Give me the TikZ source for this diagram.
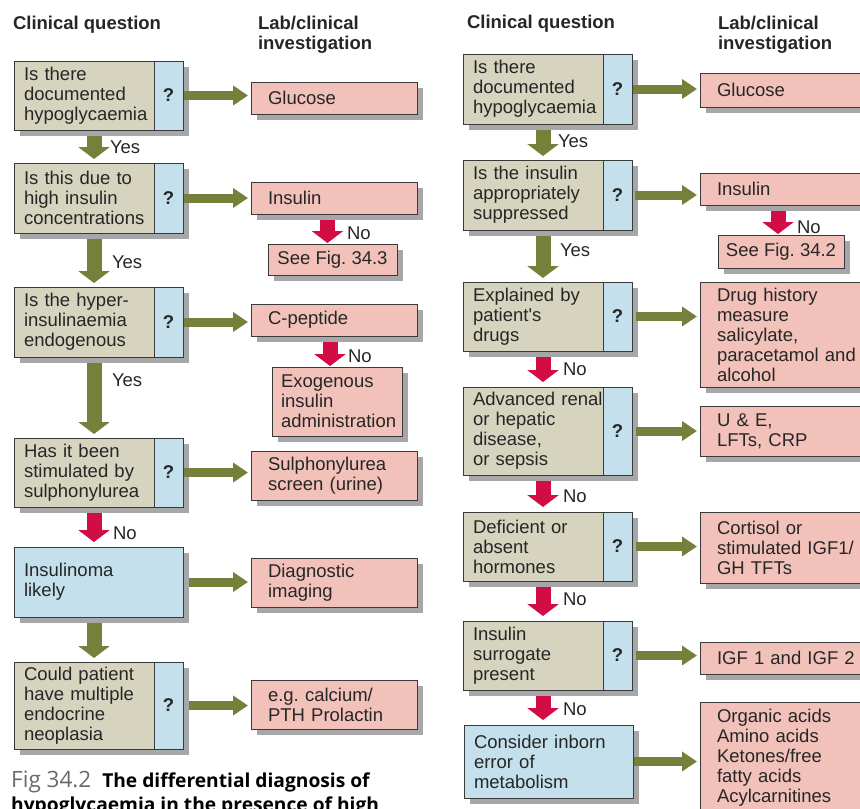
\documentclass[tikz,border=0pt]{standalone}
\usepackage{fontspec}
\setmainfont{Liberation Sans}
\newfontfamily\capfont{Open Sans}
\usetikzlibrary{arrows.meta,shadows}
\definecolor{qbeige}{HTML}{D6D4BE}
\definecolor{qblue}{HTML}{C4E0EC}
\definecolor{labpink}{HTML}{F2C2BA}
\definecolor{shadowgray}{HTML}{A7A7A9}
\definecolor{boxline}{HTML}{3A3A3A}
\definecolor{greenarr}{HTML}{76803A}
\definecolor{redarr}{HTML}{D20C44}
\definecolor{capgray}{HTML}{6A6A6A}
\hyphenpenalty=10000
\frenchspacing
\tikzset{
  base/.style={font=\fontsize{18.5}{20}\selectfont, inner sep=0pt, outer sep=0pt, text=black!85},
  head/.style={base, font=\fontsize{18.5}{19.5}\selectfont\bfseries},
  box/.style={base, draw=boxline, line width=0.9pt, anchor=north west,
    drop shadow={shadow xshift=6pt, shadow yshift=-6pt, fill=shadowgray, opacity=1}},
  question/.style={box, fill=qbeige, text width=120pt, inner xsep=10pt, align=left},
  qmark/.style={box, fill=qblue, minimum width=29pt, font=\fontsize{18.5}{20}\selectfont\bfseries},
  insight/.style={box, fill=qblue, text width=149pt, inner xsep=10pt, align=left},
  lab/.style={box, fill=labpink, inner xsep=17pt, align=left},
  see/.style={box, fill=labpink},
  yn/.style={base, anchor=west},
  yesarrow/.style={draw=greenarr, line width=15pt, -{Triangle[width=31pt,length=12pt]}, shorten <=6pt, shorten >=4pt},
  noarrow/.style={draw=redarr, line width=15pt, -{Triangle[width=31pt,length=12pt]}, shorten <=6pt, shorten >=5pt},
  labarrow/.style={draw=greenarr, line width=9pt, -{Triangle[width=19pt,length=15pt]}, shorten <=1pt, shorten >=3pt}
}
\begin{document}
\begin{tikzpicture}[x=1pt, y=-1pt]
\useasboundingbox (0,0) rectangle (860,809);
% column heads
\node[head, anchor=west] (hq1) at (13,25) {Clinical question};
\node[head, anchor=west, align=left] (hl1) at (258,35) {Lab/clinical\\investigation};
\node[head, anchor=west] (hq2) at (467,24) {Clinical question};
\node[head, anchor=west, align=left] (hl2) at (718,35) {Lab/clinical\\investigation};

% left chart, questions
\node[question, minimum height=69pt] (q1) at (14,61) {Is there\\documented\\hypoglycaemia};
\node[qmark, minimum height=69pt] (q1m) at (q1.north east) {?};
\node[question, minimum height=70pt] (q2) at (14,163) {Is this due to\\high insulin\\concentrations};
\node[qmark, minimum height=70pt] (q2m) at (q2.north east) {?};
\node[question, minimum height=70pt] (q3) at (14,287) {Is the hyper-\\insulinaemia\\endogenous};
\node[qmark, minimum height=70pt] (q3m) at (q3.north east) {?};
\node[question, minimum height=69pt] (q4) at (14,438) {Has it been\\stimulated by\\sulphonylurea};
\node[qmark, minimum height=69pt] (q4m) at (q4.north east) {?};
\node[insight, minimum height=70pt] (q5) at (14,547) {Insulinoma\\likely};
\node[question, minimum height=87pt] (q6) at (14,662) {Could patient\\have multiple\\endocrine\\neoplasia};
\node[qmark, minimum height=87pt] (q6m) at (q6.north east) {?};

% left chart, investigations
\node[lab, text width=132pt, minimum height=32pt] (l1) at (251,82) {Glucose};
\node[lab, text width=132pt, minimum height=32pt] (l2) at (251,182) {Insulin};
\node[see, minimum width=129pt, minimum height=31pt] (s2) at (268,244) {See Fig. 34.3};
\node[lab, text width=132pt, minimum height=32pt] (l3) at (251,304) {C-peptide};
\node[see, text width=112pt, inner xsep=9pt, align=left, minimum height=69pt] (s3) at (272,367) {Exogenous\\insulin\\administration};
\node[lab, text width=132pt, minimum height=49pt] (l4) at (251,451) {Sulphonylurea\\screen (urine)};
\node[lab, text width=132pt, minimum height=49pt] (l5) at (251,558) {Diagnostic\\imaging};
\node[lab, text width=132pt, minimum height=49pt] (l6) at (251,680) {e.g. calcium/\\PTH Prolactin};

% right chart, questions
\node[question, minimum height=70pt] (r1) at (463,54) {Is there\\documented\\hypoglycaemia};
\node[qmark, minimum height=70pt] (r1m) at (r1.north east) {?};
\node[question, minimum height=70pt] (r2) at (463,160) {Is the insulin\\appropriately\\suppressed};
\node[qmark, minimum height=70pt] (r2m) at (r2.north east) {?};
\node[question, minimum height=69pt] (r3) at (463,282) {Explained by\\patient\textquotesingle s\\drugs};
\node[qmark, minimum height=69pt] (r3m) at (r3.north east) {?};
\node[question, minimum height=88pt] (r4) at (463,387) {\mbox{Advanced renal}\\or hepatic\\disease,\\or sepsis};
\node[qmark, minimum height=88pt] (r4m) at (r4.north east) {?};
\node[question, minimum height=69pt] (r5) at (463,512) {Deficient or\\absent\\hormones};
\node[qmark, minimum height=69pt] (r5m) at (r5.north east) {?};
\node[question, minimum height=69pt] (r6) at (463,621) {Insulin\\surrogate\\present};
\node[qmark, minimum height=69pt] (r6m) at (r6.north east) {?};
\node[insight, minimum height=73pt] (r7) at (464,725) {Consider inborn\\error of\\metabolism};

% right chart, investigations
\node[lab, text width=156pt, minimum height=34pt] (m1) at (700,73) {Glucose};
\node[lab, text width=156pt, minimum height=32pt] (m2) at (700,173) {Insulin};
\node[see, minimum width=126pt, minimum height=33pt] (t2) at (718,235) {See Fig. 34.2};
\node[lab, text width=156pt, minimum height=105pt] (m3) at (700,282) {Drug history\\measure\\salicylate,\\paracetamol and\\alcohol};
\node[lab, text width=156pt, minimum height=50pt] (m4) at (700,406) {U \& E,\\LFTs, CRP};
\node[lab, text width=156pt, minimum height=71pt] (m5) at (700,512) {Cortisol or\\stimulated IGF1/\\GH TFTs};
\node[lab, text width=156pt, minimum height=32pt] (m6) at (700,642) {IGF 1 and IGF 2};
\node[lab, text width=156pt, minimum height=112pt] (m7) at (700,702) {Organic acids\\Amino acids\\Ketones/free\\fatty acids\\Acylcarnitines};

% down the left chart
\draw[yesarrow] ([xshift=10pt]q1.south) -- ([xshift=10pt]q1.south |- q2.north);
\draw[yesarrow] ([xshift=10pt]q2.south) -- ([xshift=10pt]q2.south |- q3.north);
\draw[yesarrow] ([xshift=10pt]q3.south) -- ([xshift=10pt]q3.south |- q4.north);
\draw[noarrow] ([xshift=10pt]q4.south) -- ([xshift=10pt]q4.south |- q5.north);
\draw[yesarrow] ([xshift=10pt]q6.north |- q5.south) -- ([xshift=10pt]q6.north);
\node[yn] (y1) at (110,147) {Yes};
\node[yn] (y2) at (112,262) {Yes};
\node[yn] (y3) at (112,380) {Yes};
\node[yn] (n4) at (113,533) {No};

% down the right chart
\draw[yesarrow] ([xshift=10pt]r1.south) -- ([xshift=10pt]r1.south |- r2.north);
\draw[yesarrow] ([xshift=10pt]r2.south) -- ([xshift=10pt]r2.south |- r3.north);
\draw[noarrow] ([xshift=10pt]r3.south) -- ([xshift=10pt]r3.south |- r4.north);
\draw[noarrow] ([xshift=10pt]r4.south) -- ([xshift=10pt]r4.south |- r5.north);
\draw[noarrow] ([xshift=10pt]r5.south) -- ([xshift=10pt]r5.south |- r6.north);
\draw[noarrow] ([xshift=10pt]r6.south) -- ([xshift=10pt]r6.south |- r7.north);
\node[yn] (y5) at (558,141) {Yes};
\node[yn] (y6) at (560,250) {Yes};
\node[yn] (n7) at (563,369) {No};
\node[yn] (n8) at (563,496) {No};
\node[yn] (n9) at (563,599) {No};
\node[yn] (n10) at (563,709) {No};

% investigation side branches
\draw[noarrow, shorten >=1pt] ([xshift=-5pt]s2.north |- l2.south) -- ([xshift=-5pt]s2.north);
\draw[noarrow, shorten >=1pt] ([xshift=-7pt]s3.north |- l3.south) -- ([xshift=-7pt]s3.north);
\draw[noarrow, shorten >=1pt] ([xshift=-3pt]t2.north |- m2.south) -- ([xshift=-3pt]t2.north);
\node[yn] (n1) at (347,233) {No};
\node[yn] (n2) at (348,356) {No};
\node[yn] (n3) at (797,227) {No};

% questions to investigations
\draw[labarrow] (q1m.east) -- (q1m.east -| l1.west);
\draw[labarrow] (q2m.east) -- (q2m.east -| l2.west);
\draw[labarrow] (q3m.east) -- (q3m.east -| l3.west);
\draw[labarrow] (q4m.east) -- (q4m.east -| l4.west);
\draw[labarrow, shorten <=6pt] (q5.east) -- (q5.east -| l5.west);
\draw[labarrow, shorten <=6pt] (q6m.east) -- (q6m.east -| l6.west);
\draw[labarrow] (r1m.east) -- (r1m.east -| m1.west);
\draw[labarrow, shorten <=3pt] (r2m.east) -- (r2m.east -| m2.west);
\draw[labarrow, shorten <=4pt] (r3m.east) -- (r3m.east -| m3.west);
\draw[labarrow, shorten <=4pt] (r4m.east) -- (r4m.east -| m4.west);
\draw[labarrow, shorten <=4pt] (r5m.east) -- (r5m.east -| m5.west);
\draw[labarrow, shorten <=4pt] (r6m.east) -- (r6m.east -| m6.west);
\draw[labarrow] (r7.east) -- (r7.east -| m7.west);

% caption
\node[anchor=base west, inner sep=0pt] (cap1) at (11,787) {{\capfont\fontsize{22.5}{24}\selectfont\color{capgray}Fig 34.2}\hspace{11pt}{\capfont\bfseries\fontsize{19.2}{22}\selectfont The differential diagnosis of}};
\node[anchor=base west, inner sep=0pt] (cap2) at (11,811) {\capfont\bfseries\fontsize{19.2}{22}\selectfont hypoglycaemia in the presence of high};
\end{tikzpicture}
\end{document}
